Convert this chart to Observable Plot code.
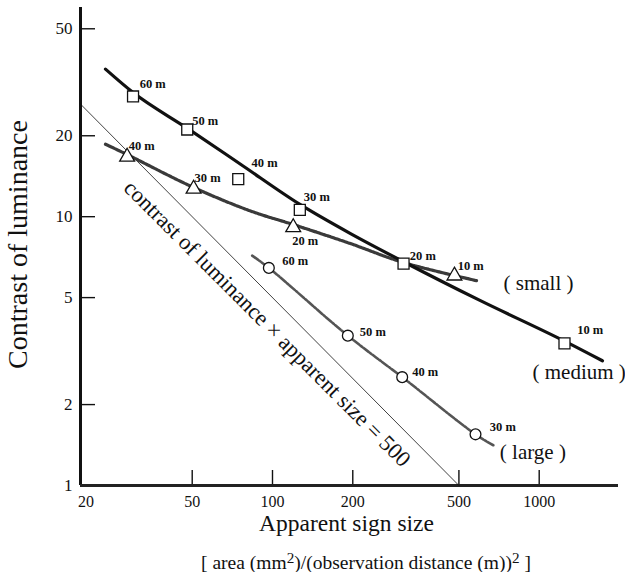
<!DOCTYPE html>
<html><head><meta charset="utf-8">
<script src="https://cdn.jsdelivr.net/npm/d3@7"></script>
<script src="https://cdn.jsdelivr.net/npm/@observablehq/plot@0.6"></script>
<style>
body{margin:0;background:#fff;}
#wrap{position:relative;width:625px;height:572px;font-family:"Liberation Serif","Times New Roman",serif;color:#111;}
#cap{position:absolute;top:553px;left:366px;transform:translateX(-50%);white-space:nowrap;font-size:19.5px;line-height:19px;}
#cap sup{font-size:0.78em;line-height:0;vertical-align:0.42em;}
</style></head><body><div id="wrap"><div id="cap">[ area (mm<sup>2</sup>)/(observation distance (m))<sup>2</sup> ]</div></div>
<script>
// ---- axes ----
const xDomain = [19.06, 1983];
const yDomain = [1, 60];
const xTicks = [20, 50, 100, 200, 500, 1000];
const xTickMarks = [50, 100, 200, 500, 1000];
const yTicks = [1, 2, 5, 10, 20, 50];
const yTickMarks = [2, 5, 10, 20, 50];
const xLabel = "Apparent sign size";
const yLabel = "Contrast of luminance";

// ---- medium signs (squares) ----
const mediumDistance = ["60 m", "50 m", "40 m", "30 m", "20 m", "10 m"];
const mediumSize = [30.0, 47.9, 74.4, 126.6, 310, 1244];
const mediumContrast = [28.0, 21.1, 13.8, 10.6, 6.69, 3.38];
const mediumFitSize = [23.65, 30.1, 48.0, 75.9, 126.3, 196.1, 309.9, 602, 1255, 1727];
const mediumFitContrast = [35.4, 28.9, 21.3, 15.67, 11.13, 8.65, 6.80, 4.87, 3.43, 2.91];

// ---- small signs (triangles) ----
const smallDistance = ["40 m", "30 m", "20 m", "10 m"];
const smallSize = [28.5, 50.6, 119.6, 481];
const smallContrast = [16.7, 12.7, 9.13, 6.03];
const smallFitSize = [23.65, 28.6, 50.1, 82.7, 119.9, 196.1, 309.9, 582];
const smallFitContrast = [18.6, 17.0, 12.9, 10.5, 9.34, 7.94, 6.75, 5.78];

// ---- large signs (circles) ----
const largeDistance = ["60 m", "50 m", "40 m", "30 m"];
const largeSize = [96.9, 191.6, 306.4, 577];
const largeContrast = [6.45, 3.61, 2.53, 1.55];
const largeFitSize = [83.9, 96.9, 191.6, 306.4, 577, 676];
const largeFitContrast = [7.16, 6.45, 3.61, 2.53, 1.55, 1.408];

// ---- reference: contrast x apparent size = 500 ----
const refProduct = 500;
const refSize = [19.06, 500];
const refLabel = "contrast of luminance \u00d7 apparent size = 500";
const refLabelAt = [95.5, 4.0];

// ---- series names ----
const seriesNames = ["( small )", "( medium )", "( large )"];
const seriesNameSize = [734.6, 943.9, 711.9];
const seriesNameContrast = [5.67, 2.64, 1.33];

// ---- label nudges (pixels, layout only) ----
const mediumNudge = [[6.6,-12.4],[5,-9],[13.3,-15.6],[4,-13],[6.3,-8],[12.7,-13.4]];
const smallNudge = [[1.6,-11],[1,-10.3],[-1,13.3],[3.3,-10]];
const largeNudge = [[13.4,-7.3],[12,-4],[10,-5],[14.3,-7.3]];

const zip = (xs, ys, ls) => xs.map((x, i) => ({x, y: ys[i], label: ls ? ls[i] : null}));
const medium = zip(mediumSize, mediumContrast, mediumDistance);
const small = zip(smallSize, smallContrast, smallDistance);
const large = zip(largeSize, largeContrast, largeDistance);
const mediumFit = zip(mediumFitSize, mediumFitContrast);
const smallFit = zip(smallFitSize, smallFitContrast);
const largeFit = zip(largeFitSize, largeFitContrast);
const refLine = refSize.map(x => ({x, y: refProduct / x}));
const names = zip(seriesNameSize, seriesNameContrast, seriesNames);

const W = 625, H = 545, mT = 7, mL = 80, mR = 7, mB = 60, tickLen = 15;
const labelFont = {fontSize: 12.5, fontWeight: "bold", textAnchor: "start", fill: "#111"};
const labels = (pts, nudge) => pts.map((d, i) => Plot.text([d], {x: "x", y: "y", text: "label", dx: nudge[i][0], dy: nudge[i][1], ...labelFont}));

const chart = Plot.plot({
  width: W, height: H,
  marginTop: mT, marginLeft: mL, marginRight: mR, marginBottom: mB,
  style: {fontFamily: '"Liberation Serif", "Times New Roman", serif', fontSize: "16px", background: "white", color: "#111", overflow: "visible"},
  x: {type: "log", domain: xDomain},
  y: {type: "log", domain: yDomain},
  marks: [
    Plot.axisY({ticks: yTicks, tickSize: 0, tickPadding: 8, tickFormat: d => String(d), fontSize: 17, label: null}),
    Plot.axisX({ticks: xTicks, tickSize: 0, tickPadding: 10, tickFormat: d => String(d), fontSize: 16, label: null}),
    Plot.tickX(xTickMarks, {x: d => d, insetTop: H - mT - mB - tickLen, stroke: "#111", strokeWidth: 1.4}),
    Plot.tickY(yTickMarks, {y: d => d, insetRight: W - mL - mR - tickLen, stroke: "#111", strokeWidth: 1.4}),
    Plot.ruleX([xDomain[0]], {stroke: "#111", strokeWidth: 3}),
    Plot.ruleY([yDomain[0]], {stroke: "#222", strokeWidth: 3}),
    Plot.text([yLabel], {frameAnchor: "left", textAnchor: "middle", lineAnchor: "middle", dx: -62, dy: -2, rotate: -90, fontSize: 28, fill: "#111"}),
    Plot.text([xLabel], {frameAnchor: "bottom", textAnchor: "middle", lineAnchor: "middle", dx: -3, dy: 38, fontSize: 23.5, fill: "#111"}),
    Plot.line(refLine, {x: "x", y: "y", stroke: "#111", strokeWidth: 0.8}),
    Plot.text([refLabel], {x: () => refLabelAt[0], y: () => refLabelAt[1], rotate: 45, fontSize: 22.5, fill: "#111"}),
    Plot.line(largeFit, {x: "x", y: "y", curve: "catmull-rom", stroke: "#555", strokeWidth: 2.6, strokeDasharray: "7,1.5,2,1.5"}),
    Plot.line(smallFit, {x: "x", y: "y", curve: "catmull-rom", stroke: "#3a3a3a", strokeWidth: 3.2, strokeDasharray: "2.5,1.2"}),
    Plot.line(mediumFit, {x: "x", y: "y", curve: "monotone-x", stroke: "#111", strokeWidth: 3.2}),
    Plot.dot(large, {x: "x", y: "y", symbol: "circle", r: 5.4, fill: "white", stroke: "#111", strokeWidth: 1.3}),
    Plot.dot(small, {x: "x", y: "y", symbol: "triangle", r: 5.5, fill: "white", stroke: "#111", strokeWidth: 1.3}),
    Plot.dot(medium, {x: "x", y: "y", symbol: "square", r: 6.2, fill: "white", stroke: "#111", strokeWidth: 1.3}),
    ...labels(medium, mediumNudge),
    ...labels(small, smallNudge),
    ...labels(large, largeNudge),
    Plot.text(names, {x: "x", y: "y", text: "label", textAnchor: "start", fontSize: 21, fill: "#111"})
  ]
});
document.getElementById("wrap").prepend(chart);
</script>
</body></html>
